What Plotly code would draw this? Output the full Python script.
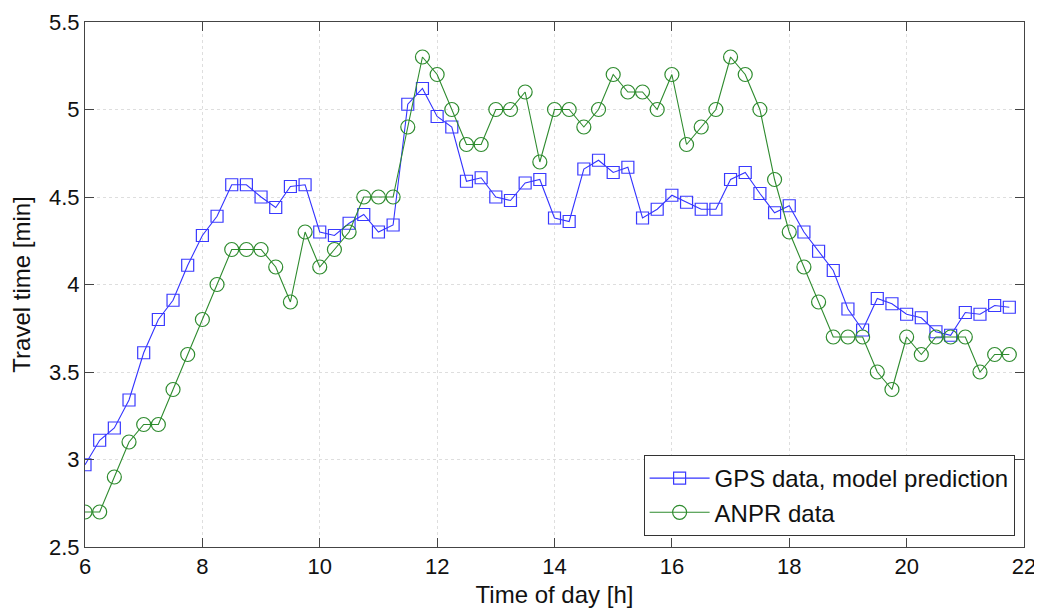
import numpy as np
import plotly.graph_objects as go

time_h = [6 + 0.25 * i for i in range(64)]

gps_model = [2.97, 3.11, 3.18, 3.34, 3.61, 3.80, 3.91, 4.11, 4.28, 4.39,
             4.57, 4.57, 4.50, 4.44, 4.56, 4.57, 4.30, 4.28, 4.35, 4.40,
             4.30, 4.34, 5.03, 5.12, 4.96, 4.90, 4.59, 4.61, 4.50, 4.48,
             4.58, 4.60, 4.38, 4.36, 4.66, 4.71, 4.64, 4.67, 4.38, 4.43,
             4.51, 4.47, 4.43, 4.43, 4.60, 4.64, 4.52, 4.41, 4.45, 4.30,
             4.19, 4.08, 3.86, 3.74, 3.92, 3.89, 3.83, 3.81, 3.73, 3.71,
             3.84, 3.83, 3.88, 3.87]

anpr = [2.7, 2.7, 2.9, 3.1, 3.2, 3.2, 3.4, 3.6, 3.8, 4.0,
        4.2, 4.2, 4.2, 4.1, 3.9, 4.3, 4.1, 4.2, 4.3, 4.5,
        4.5, 4.5, 4.9, 5.3, 5.2, 5.0, 4.8, 4.8, 5.0, 5.0,
        5.1, 4.7, 5.0, 5.0, 4.9, 5.0, 5.2, 5.1, 5.1, 5.0,
        5.2, 4.8, 4.9, 5.0, 5.3, 5.2, 5.0, 4.6, 4.3, 4.1,
        3.9, 3.7, 3.7, 3.7, 3.5, 3.4, 3.7, 3.6, 3.7, 3.7,
        3.7, 3.5, 3.6, 3.6]

x_ticks = [6, 8, 10, 12, 14, 16, 18, 20, 22]
y_ticks = [2.5, 3, 3.5, 4, 4.5, 5, 5.5]
y_tick_labels = ["2.5", "3", "3.5", "4", "4.5", "5", "5.5"]

FONT = "Liberation Sans, Arial, Helvetica, sans-serif"

fig = go.Figure()
fig.add_trace(go.Scatter(
    x=time_h, y=gps_model, mode="lines+markers",
    name="GPS data, model prediction",
    line=dict(color="#3333ff", width=1.1),
    marker=dict(symbol="square-open", size=12, color="#3a3aff", line=dict(width=1.2)),
))
fig.add_trace(go.Scatter(
    x=time_h, y=anpr, mode="lines+markers",
    name="ANPR data",
    line=dict(color="#2e8b2e", width=1.1),
    marker=dict(symbol="circle-open", size=14, color="#2e8b2e", line=dict(width=1.2)),
))

axis_common = dict(
    showline=True, linecolor="#444444", linewidth=1, mirror="ticks",
    ticks="inside", ticklen=9, tickwidth=1, tickcolor="#444444",
    showgrid=True, gridcolor="#dedede", griddash="dot", gridwidth=1,
    zeroline=False, automargin=False, ticklabeloverflow="allow",
    tickfont=dict(family=FONT, size=22, color="#111111"),
)

fig.update_xaxes(
    range=[6, 22], tickvals=x_ticks,
    title=dict(text="Time of day [h]", font=dict(family=FONT, size=24, color="#111111"), standoff=10),
    **axis_common,
)
fig.update_yaxes(
    range=[2.5, 5.5], tickvals=y_ticks, ticktext=y_tick_labels,
    title=dict(text="Travel time [min]", font=dict(family=FONT, size=24, color="#111111"), standoff=12),
    **axis_common,
)

# the page body has an 8px margin; the figure is offset accordingly
fig.update_layout(
    width=1034, height=600,
    margin=dict(l=77, r=18, t=14, b=61),
    plot_bgcolor="white", paper_bgcolor="white",
    font=dict(family=FONT, color="#111111"),
    legend=dict(
        x=0.99, y=0.021, xanchor="right", yanchor="bottom",
        bgcolor="white", bordercolor="#333333", borderwidth=1,
        font=dict(family=FONT, size=24, color="#111111"),
        tracegroupgap=0, itemwidth=60,
    ),
)

fig.write_html("out.html")
